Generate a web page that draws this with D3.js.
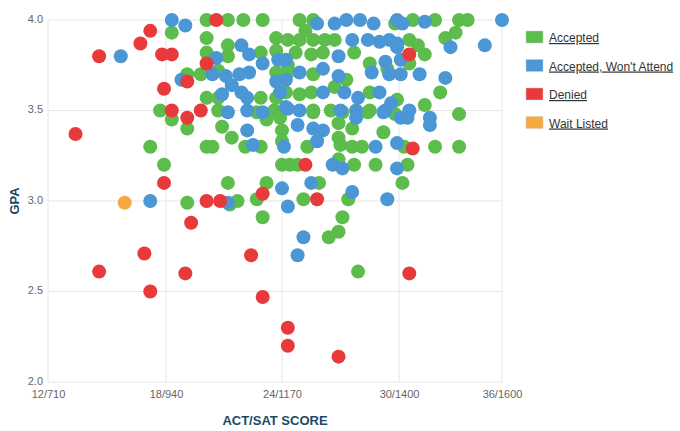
<!DOCTYPE html>
<html>
<head>
<meta charset="utf-8">
<script src="https://cdn.jsdelivr.net/npm/d3@7"></script>
<style>
  body { margin: 0; background: #fff; }
  text { font-family: "Liberation Sans", Arial, sans-serif; }
</style>
</head>
<body>
<script>
// score on the ACT scale, GPA
var accepted = [
  [17.9,3.20],[17.2,3.30],[19.1,2.99],[18.3,3.93],[17.7,3.50],[18.3,3.45],[19.1,3.40],
  [20.1,3.57],[20.1,3.30],[20.4,3.30],[20.9,3.41],[21.4,3.35],[21.2,3.10],[21.3,2.98],
  [21.7,3.00],[20.1,3.82],[20.1,3.90],[20.1,4.00],[21.2,4.00],[22.0,4.00],[21.2,3.86],
  [21.2,3.80],[19.8,3.70],[19.1,3.70],[23.0,4.00],[22.9,3.82],[23.7,3.90],[23.7,3.83],
  [24.3,3.89],[20.7,3.72],[23.7,3.71],[20.7,3.57],[22.9,3.57],[23.7,3.57],[20.7,3.50],
  [22.7,3.49],[23.6,3.50],[24.3,3.75],[22.1,3.30],[22.9,3.30],[23.2,3.45],[24.0,3.39],
  [24.0,3.33],[24.0,3.20],[23.2,3.10],[22.7,3.01],[23.0,2.91],[24.9,4.00],[25.6,4.00],
  [24.9,3.89],[25.6,3.89],[26.2,3.89],[26.7,3.89],[25.2,3.94],[25.5,3.81],[24.7,3.82],
  [26.1,3.82],[27.7,3.82],[28.5,3.76],[29.4,3.73],[24.3,3.71],[25.6,3.70],[24.2,3.60],
  [24.9,3.59],[25.5,3.60],[26.7,3.63],[27.3,3.67],[28.5,3.60],[29.9,3.56],[25.6,3.50],
  [26.5,3.50],[28.5,3.50],[29.8,3.98],[23.9,3.46],[25.6,3.49],[27.1,3.49],[28.4,3.49],
  [26.9,3.43],[27.6,3.40],[29.2,3.38],[26.9,3.35],[25.3,3.30],[27.0,3.31],[27.6,3.30],
  [28.1,3.30],[24.4,3.20],[24.8,3.20],[26.9,3.23],[27.7,3.20],[28.8,3.20],[25.9,3.10],
  [25.1,3.01],[27.4,3.01],[27.1,2.91],[30.5,3.20],[30.2,3.10],[33.5,3.48],[32.1,3.30],
  [33.5,3.30],[30.3,3.30],[29.8,3.48],[30.8,4.00],[32.1,4.00],[33.5,4.00],[34.0,4.00],
  [33.3,3.93],[32.7,3.90],[30.6,3.89],[31.1,3.86],[31.5,3.81],[30.6,3.76],[32.4,3.60],
  [31.5,3.53],[26.9,2.83],[26.4,2.80],[27.9,2.61]
];

var wontAttend = [
  [15.7,3.80],[17.2,3.00],[18.3,4.00],[19.0,3.97],[18.8,3.67],[21.9,3.86],[20.6,3.79],
  [22.3,3.81],[23.0,3.76],[23.8,3.78],[20.4,3.70],[21.1,3.69],[21.8,3.70],[22.3,3.71],
  [21.4,3.64],[20.9,3.59],[21.9,3.60],[22.2,3.57],[23.7,3.66],[23.9,3.60],[21.2,3.49],
  [22.2,3.50],[23.0,3.49],[24.3,3.51],[22.2,3.39],[22.5,3.31],[21.2,2.99],[24.0,3.07],
  [24.3,2.97],[25.8,3.98],[26.7,3.98],[27.3,4.00],[28.0,4.00],[28.7,3.98],[30.2,3.98],
  [27.6,3.89],[28.4,3.89],[29.0,3.88],[29.5,3.89],[29.9,3.85],[30.1,3.78],[26.9,3.80],
  [29.3,3.77],[24.9,3.71],[26.1,3.73],[26.9,3.69],[28.6,3.71],[29.5,3.70],[24.2,3.78],
  [24.2,3.67],[26.1,3.60],[27.2,3.60],[27.9,3.57],[29.0,3.60],[29.6,3.54],[24.2,3.52],
  [24.9,3.50],[27.0,3.50],[27.8,3.50],[29.3,3.50],[24.8,3.42],[25.6,3.40],[26.1,3.39],
  [27.8,3.46],[29.2,3.49],[30.1,3.46],[24.1,3.30],[25.8,3.33],[28.8,3.30],[29.9,3.32],
  [26.6,3.20],[27.1,3.18],[29.9,3.18],[25.5,3.10],[27.6,3.05],[29.4,3.01],[31.8,3.42],
  [30.5,3.46],[36.0,4.00],[29.9,4.00],[31.5,3.99],[35.0,3.86],[33.0,3.85],[29.9,3.87],
  [31.2,3.70],[32.7,3.68],[30.1,3.70],[30.6,3.50],[31.8,3.46],[25.1,2.80],[24.8,2.70]
];

var denied = [
  [13.4,3.37],[14.6,3.80],[14.6,2.61],[16.7,3.87],[16.9,2.71],[17.2,3.94],[17.2,2.50],
  [17.8,3.81],[18.3,3.81],[17.9,3.62],[17.9,3.10],[18.3,3.50],[19.1,3.46],[19.1,3.66],
  [19.0,2.60],[19.3,2.88],[19.8,3.50],[20.1,3.76],[20.1,3.00],[20.8,3.00],[20.6,4.00],
  [22.4,2.70],[23.0,2.47],[23.0,3.04],[24.3,2.30],[24.3,2.20],[26.9,2.14],[25.2,3.20],
  [25.8,3.01],[30.6,3.81],[30.8,3.29],[30.6,2.60]
];

var waitListed = [[15.9,2.99]];

var seriesNames = ["Accepted", "Accepted, Won't Attend", "Denied", "Wait Listed"];
var seriesColors = ["#5cbc4c", "#4b97d6", "#e8393b", "#f5a93f"];
var actTicks = [12, 18, 24, 30, 36];
var actLabels = ["12/710", "18/940", "24/1170", "30/1400", "36/1600"];
var gpaTicks = [2.0, 2.5, 3.0, 3.5, 4.0];

var width = 680, height = 431;

var svg = d3.select("body").append("svg")
    .attr("width", width)
    .attr("height", height);

// the last tick sits at the plot edge, so the scale is piecewise
var x = d3.scaleLinear().domain(actTicks).range([48, 166, 282, 399, 502]);
var y = d3.scaleLinear().domain([2, 4]).range([382, 20]);

// grid
svg.append("g")
    .selectAll("line")
    .data(actTicks)
    .enter().append("line")
    .attr("x1", d => x(d)).attr("x2", d => x(d))
    .attr("y1", y(4)).attr("y2", y(2))
    .attr("stroke", "#e6e6e6");

svg.append("g")
    .selectAll("line")
    .data(gpaTicks)
    .enter().append("line")
    .attr("x1", x(12)).attr("x2", x(36))
    .attr("y1", d => y(d)).attr("y2", d => y(d))
    .attr("stroke", "#e6e6e6");

// axes
var xAxis = svg.append("g")
    .attr("transform", "translate(0," + y(2) + ")")
    .call(d3.axisBottom(x).tickValues(actTicks).tickSize(0).tickPadding(8)
        .tickFormat((d, i) => actLabels[i]));
xAxis.select(".domain").remove();
xAxis.selectAll("text").attr("fill", "#666").style("font-size", "11px");

var yAxis = svg.append("g")
    .attr("transform", "translate(" + x(12) + ",0)")
    .call(d3.axisLeft(y).tickValues(gpaTicks).tickSize(0).tickPadding(5)
        .tickFormat(d3.format(".1f")));
yAxis.select(".domain").remove();
yAxis.selectAll("text").attr("fill", "#666").attr("dy", "0.2em").style("font-size", "11px");

svg.append("text")
    .attr("transform", "translate(19,201) rotate(-90)")
    .attr("text-anchor", "middle")
    .attr("fill", "#1b4a66")
    .style("font-size", "13px")
    .style("font-weight", "bold")
    .text("GPA");

svg.append("text")
    .attr("x", 275).attr("y", 425)
    .attr("text-anchor", "middle")
    .attr("fill", "#1b4a66")
    .style("font-size", "13px")
    .style("font-weight", "bold")
    .text("ACT/SAT SCORE");

// points
var allSeries = [accepted, wontAttend, denied, waitListed];
allSeries.forEach(function (series, i) {
    svg.append("g")
        .selectAll("circle")
        .data(series)
        .enter().append("circle")
        .attr("cx", d => x(d[0]))
        .attr("cy", d => y(d[1]))
        .attr("r", 7)
        .attr("fill", seriesColors[i]);
});

// legend
var legend = svg.append("g")
    .selectAll("g")
    .data(seriesNames)
    .enter().append("g")
    .attr("transform", (d, i) => "translate(526," + (31 + i * 28.5) + ")");

legend.append("rect")
    .attr("width", 17).attr("height", 12)
    .attr("fill", (d, i) => seriesColors[i])
    .attr("stroke", "#ccc")
    .attr("stroke-width", 0.5);

legend.append("text")
    .attr("x", 23).attr("y", 11)
    .attr("fill", "#333")
    .style("font-size", "12px")
    .style("text-decoration", "underline")
    .text(d => d);
</script>
</body>
</html>
